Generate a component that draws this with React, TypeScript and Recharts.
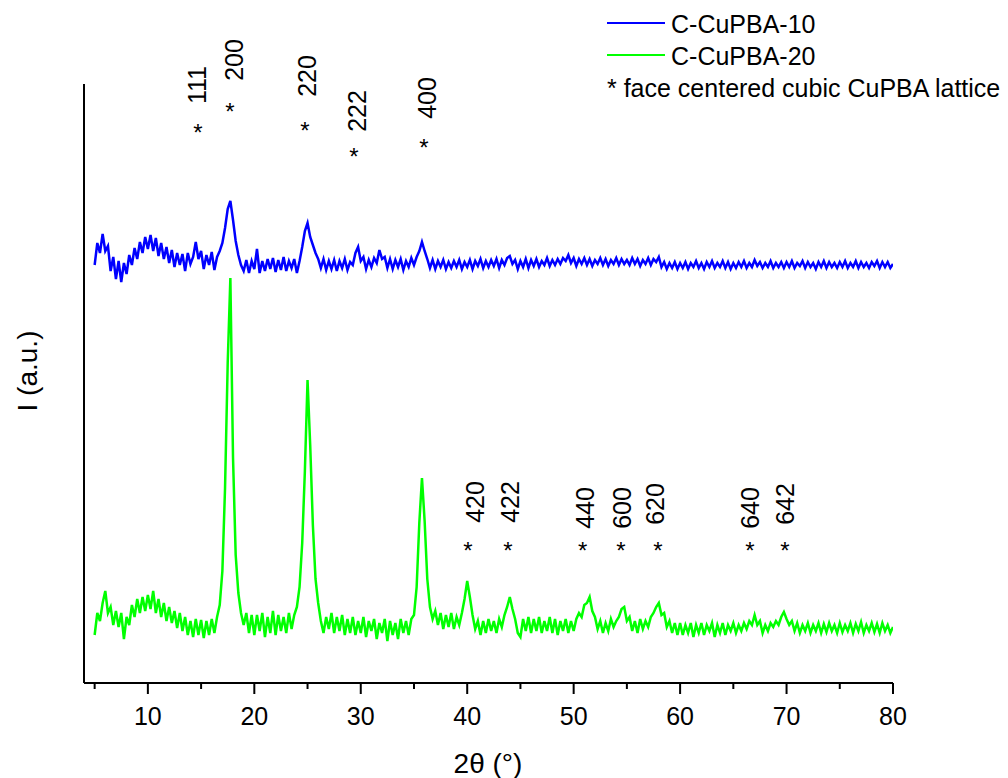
import { ComposedChart, Line, XAxis, YAxis, ReferenceDot } from 'recharts'

// sampling of both patterns: 5° to 80° every 0.25°
const angleStart = 5
const angleStep = 0.25

// C-CuPBA-10 (offset trace), one row per 5°
const blueCounts = [
    418, 440, 430, 449, 432, 437, 412, 426, 404, 422, 401, 420, 409, 428, 418, 435, 424, 441, 430, 446,
    434, 448, 432, 445, 427, 440, 424, 436, 420, 433, 416, 430, 418, 429, 412, 430, 419, 426, 441, 424,
    432, 414, 428, 418, 431, 413, 426, 432, 440, 455, 474, 482, 463, 442, 428, 418, 412, 423, 410, 422,
    414, 434, 410, 422, 412, 424, 414, 425, 411, 423, 413, 426, 412, 422, 415, 424, 410, 422, 436, 452,
    460, 446, 438, 430, 424, 415, 424, 413, 422, 414, 423, 412, 422, 415, 424, 413, 421, 418, 430, 436,
    422, 426, 414, 423, 416, 425, 420, 433, 424, 426, 415, 424, 414, 423, 416, 424, 413, 422, 416, 425,
    418, 426, 432, 441, 432, 424, 415, 423, 414, 422, 416, 423, 414, 421, 415, 422, 416, 423, 414, 421,
    416, 423, 414, 422, 417, 424, 415, 422, 416, 423, 417, 424, 415, 423, 418, 425, 427, 419, 423, 414,
    422, 416, 424, 415, 423, 417, 424, 416, 422, 418, 425, 417, 423, 418, 424, 419, 425, 422, 428, 420,
    425, 417, 424, 419, 425, 418, 424, 417, 423, 419, 425, 418, 424, 417, 423, 419, 425, 418, 424, 419,
    423, 418, 425, 419, 424, 417, 423, 419, 425, 418, 424, 421, 426, 416, 421, 414, 420, 415, 421, 414,
    420, 415, 421, 414, 420, 416, 422, 415, 420, 414, 421, 416, 422, 415, 420, 416, 422, 415, 421, 414,
    420, 415, 421, 416, 422, 415, 420, 416, 423, 417, 421, 415, 420, 416, 422, 415, 420, 416, 421, 415,
    421, 416, 422, 415, 420, 417, 422, 415, 421, 416, 420, 414, 421, 416, 422, 415, 421, 416, 420, 415,
    421, 416, 422, 415, 420, 416, 422, 415, 421, 416, 420, 415, 421, 417, 422, 415, 421, 416, 421, 415,
    419,
]

// C-CuPBA-20
const greenCounts = [
    48, 70, 62, 80, 92, 70, 76, 58, 72, 56, 70, 44, 66, 58, 78, 66, 84, 70, 86, 72,
    88, 74, 92, 70, 84, 66, 80, 62, 76, 60, 72, 55, 70, 52, 66, 48, 62, 46, 64, 48,
    63, 45, 62, 48, 64, 50, 66, 78, 112, 195, 320, 405, 225, 128, 90, 70, 58, 70, 50, 68,
    48, 68, 52, 70, 46, 66, 50, 72, 48, 68, 52, 66, 50, 70, 54, 68, 76, 96, 140, 212,
    303, 238, 158, 104, 80, 62, 50, 66, 54, 70, 50, 66, 52, 68, 48, 64, 50, 66, 48, 62,
    50, 66, 46, 62, 52, 64, 44, 60, 50, 64, 42, 62, 48, 60, 44, 64, 50, 62, 48, 64,
    68, 96, 160, 205, 162, 104, 76, 64, 72, 58, 70, 54, 68, 56, 70, 54, 66, 58, 70, 84,
    102, 86, 68, 54, 62, 48, 62, 50, 64, 52, 62, 50, 64, 56, 68, 76, 86, 74, 64, 50,
    46, 64, 52, 66, 50, 64, 52, 66, 50, 62, 52, 66, 50, 64, 48, 62, 52, 64, 50, 62,
    52, 64, 70, 66, 78, 80, 86, 72, 66, 54, 62, 50, 60, 52, 64, 56, 62, 66, 74, 76,
    62, 66, 52, 62, 50, 64, 54, 62, 56, 66, 70, 76, 80, 68, 70, 56, 62, 50, 60, 48,
    60, 48, 58, 50, 60, 46, 58, 50, 60, 48, 58, 52, 60, 46, 58, 50, 60, 48, 58, 52,
    60, 50, 58, 52, 60, 54, 62, 58, 68, 58, 62, 50, 58, 52, 60, 56, 62, 58, 66, 71,
    64, 58, 62, 52, 60, 50, 58, 52, 60, 50, 58, 52, 60, 50, 59, 51, 60, 52, 58, 50,
    60, 51, 58, 52, 60, 50, 59, 52, 61, 50, 58, 52, 60, 51, 59, 50, 60, 52, 58, 50,
    56,
]

const xTicks = [5, 10, 15, 20, 25, 30, 35, 40, 45, 50, 55, 60, 65, 70, 75, 80]

// reflections of the fcc CuPBA lattice
const hklLabels = ['111', '200', '220', '222', '400', '420', '422', '440', '600', '620', '640', '642']
const starAngles = [14.71, 17.72, 24.76, 29.36, 35.94, 40.07, 43.83, 50.85, 54.45, 57.92, 66.56, 69.85]
const starLevels = [555, 576, 557, 531, 540, 137, 137, 137, 137, 137, 137, 137]
const labelAngles = [14.59, 18.08, 24.92, 29.62, 36.19, 40.73, 44.02, 51.06, 54.51, 57.64, 66.56, 69.85]
const labelLevels = [598, 623, 607, 572, 585, 181, 181, 175, 175, 179, 175, 179]

const FONT = '"Liberation Sans", Arial, sans-serif'

const table = blueCounts.map((b, i) => ({
    angle: angleStart + i * angleStep,
    blue: b,
    green: greenCounts[i],
}))

function AngleTick(props: any) {
    const { x, y, payload } = props
    const major = payload.value % 10 === 0
    return (
        <g>
            <line x1={x} x2={x} y1={y} y2={y + (major ? 11 : 6)} stroke="#000" strokeWidth={2} />
            {major && (
                <text x={x} y={y + 42} textAnchor="middle" fontSize={25} fill="#000" fontFamily={FONT}>
                    {payload.value}
                </text>
            )}
        </g>
    )
}

export default function App() {
    return (
        <div style={{ position: 'absolute', left: 0, top: 0, width: 1008, height: 778, background: '#fff', fontFamily: FONT }}>
            <ComposedChart
                width={1008}
                height={778}
                data={table}
                margin={{ top: 84, right: 115, bottom: 0, left: 0 }}
            >
                <XAxis
                    dataKey="angle"
                    type="number"
                    domain={[4, 80]}
                    ticks={xTicks}
                    interval={0}
                    height={95}
                    tickSize={0}
                    tickMargin={0}
                    tickLine={false}
                    tick={<AngleTick />}
                    axisLine={{ stroke: '#000', strokeWidth: 2 }}
                    allowDataOverflow
                />
                <YAxis
                    type="number"
                    domain={[0, 599]}
                    width={84}
                    tick={false}
                    tickLine={false}
                    axisLine={{ stroke: '#000', strokeWidth: 2 }}
                />
                <Line dataKey="green" stroke="#00ff00" strokeWidth={2.5} dot={false} isAnimationActive={false} />
                <Line dataKey="blue" stroke="#0000ff" strokeWidth={2.5} dot={false} isAnimationActive={false} />
                {hklLabels.map((lab, i) => (
                    <ReferenceDot
                        key={'star' + lab}
                        x={starAngles[i]}
                        y={starLevels[i]}
                        r={0}
                        ifOverflow="visible"
                        shape={(p: any) => (
                            <text x={p.cx} y={p.cy + 13} textAnchor="middle" fontSize={24} fill="#000" fontFamily={FONT}>
                                *
                            </text>
                        )}
                    />
                ))}
                {hklLabels.map((lab, i) => (
                    <ReferenceDot
                        key={'hkl' + lab}
                        x={labelAngles[i]}
                        y={labelLevels[i]}
                        r={0}
                        ifOverflow="visible"
                        shape={(p: any) => (
                            <text
                                x={p.cx}
                                y={p.cy}
                                transform={`rotate(-90 ${p.cx} ${p.cy})`}
                                textAnchor="middle"
                                dominantBaseline="central"
                                fontSize={25}
                                fill="#000"
                                fontFamily={FONT}
                            >
                                {lab}
                            </text>
                        )}
                    />
                ))}
            </ComposedChart>

            {/* titles and legend */}
            <svg width={1008} height={778} style={{ position: 'absolute', left: 0, top: 0, pointerEvents: 'none' }}>
                <text x={488} y={773} textAnchor="middle" fontSize={28} fontFamily={FONT}>
                    2θ (°)
                </text>
                <text
                    x={27}
                    y={371}
                    transform="rotate(-90 27 371)"
                    textAnchor="middle"
                    dominantBaseline="central"
                    fontSize={28}
                    fontFamily={FONT}
                >
                    I (a.u.)
                </text>
                <line x1={607} x2={665} y1={23} y2={23} stroke="#0000ff" strokeWidth={2} />
                <text x={671} y={33} fontSize={25} fontFamily={FONT}>C-CuPBA-10</text>
                <line x1={607} x2={665} y1={55} y2={55} stroke="#00ff00" strokeWidth={2} />
                <text x={671} y={65} fontSize={25} fontFamily={FONT}>C-CuPBA-20</text>
                <text x={607} y={97} fontSize={25} fontFamily={FONT}>* face centered cubic CuPBA lattice</text>
            </svg>
        </div>
    )
}
